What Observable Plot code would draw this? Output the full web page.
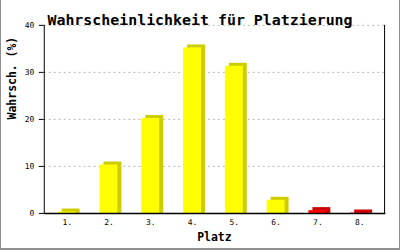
<!DOCTYPE html>
<html>
<head>
<meta charset="utf-8">
<script src="https://cdn.jsdelivr.net/npm/d3@7"></script>
<script src="https://cdn.jsdelivr.net/npm/@observablehq/plot@0.6"></script>
<style>
  html, body { margin: 0; padding: 0; background: #fff; }
  #wrap { position: relative; width: 400px; height: 250px; box-sizing: border-box;
          border-left: 1px solid #909090; border-right: 1px solid #909090; border-bottom: 2px solid #909090; overflow: hidden; }
  #wrap svg { position: absolute; left: -1px; top: 0; }
</style>
</head>
<body>
<div id="wrap"></div>
<script>
const places = ["1.", "2.", "3.", "4.", "5.", "6.", "7.", "8."];
const values = [0.3, 10.3, 20.2, 35.2, 31.3, 2.8, 0.6, 0.1];
const frontColors = ["#ffff00", "#ffff00", "#ffff00", "#ffff00", "#ffff00", "#ffff00", "#ff0000", "#ff0000"];
const sideColors = ["#cccc00", "#cccc00", "#cccc00", "#cccc00", "#cccc00", "#cccc00", "#cc0000", "#cc0000"];
const yTicks = [0, 10, 20, 30, 40];
const title = "Wahrscheinlichkeit für Platzierung";
const xLabel = "Platz";
const yLabel = "Wahrsch. (%)";

const data = places.map((p, i) => ({place: p, value: values[i], front: frontColors[i], side: sideColors[i]}));

const chart = Plot.plot({
  width: 400,
  height: 250,
  marginLeft: 44,
  marginRight: 14,
  marginTop: 25,
  marginBottom: 36,
  style: {fontFamily: "'DejaVu Sans Mono', monospace", fontSize: "8px", color: "#000", background: "transparent"},
  x: {domain: places, padding: 0, axis: null},
  y: {domain: [0, 40], axis: null},
  marks: [
    Plot.gridY(yTicks.slice(1), {stroke: "#b8b8b8", strokeOpacity: 1, strokeDasharray: "2,3"}),
    Plot.barY(data, {x: "place", y: "value", fill: d => d.side, insetLeft: 11, insetRight: 13, dx: 4, dy: -3, insetBottom: -3}),
    Plot.barY(data, {x: "place", y: "value", fill: d => d.front, insetLeft: 11, insetRight: 13}),
    Plot.axisY(yTicks, {tickSize: 5, tickPadding: 5, fontSize: 8, label: null, stroke: "#000", fill: "#000"}),
    Plot.axisX({tickSize: 0, tickPadding: 6, fontSize: 8, label: null, dx: -1, fill: "#000"}),
    Plot.frame({anchor: "left", stroke: "#000"}),
    Plot.frame({anchor: "right", stroke: "#000"}),
    Plot.frame({anchor: "bottom", stroke: "#000", strokeWidth: 1.5}),
    Plot.text([title], {frameAnchor: "top", dy: -11.5, dx: -14.5, fontSize: 15, fontWeight: "bold", fill: "#000"}),
    Plot.text([yLabel], {frameAnchor: "left", rotate: -90, dx: -32, fontSize: 11.5, fontWeight: "bold", fill: "#000"}),
    Plot.text([xLabel], {frameAnchor: "bottom", dy: 28, fontSize: 11.5, fontWeight: "bold", fill: "#000"})
  ]
});
document.getElementById("wrap").appendChild(chart);
</script>
</body>
</html>
